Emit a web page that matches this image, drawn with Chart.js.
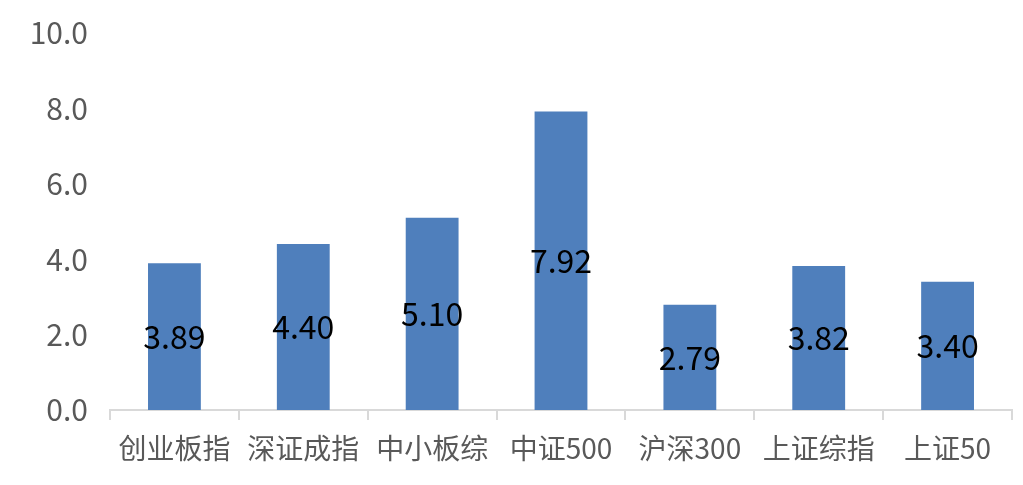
<!DOCTYPE html>
<html>
<head>
<meta charset="utf-8">
<script src="https://cdn.jsdelivr.net/npm/chart.js@4/dist/chart.umd.min.js"></script>
<style>
  html, body { margin: 0; padding: 0; background: #fff; }
  #wrap { width: 1023px; height: 485px; }
</style>
</head>
<body>
<div id="wrap"><canvas id="chart" width="1023" height="485"></canvas></div>
<script>
// 数据
const categories = ["创业板指", "深证成指", "中小板综", "中证500", "沪深300", "上证综指", "上证50"];
const values = [3.89, 4.40, 5.10, 7.92, 2.79, 3.82, 3.40];
const yTicks = [0, 2, 4, 6, 8, 10];

const FONT = "'Noto Sans CJK SC', 'Noto Sans', sans-serif";

// 柱内居中数值标签
const barLabels = {
  id: "barLabels",
  afterDatasetsDraw(chart) {
    const { ctx } = chart;
    const meta = chart.getDatasetMeta(0);
    ctx.save();
    ctx.font = `32px ${FONT}`;
    ctx.fillStyle = "#000000";
    ctx.textAlign = "center";
    ctx.textBaseline = "middle";
    meta.data.forEach((bar, i) => {
      const y = (bar.y + bar.base) / 2;
      ctx.fillText(values[i].toFixed(2), bar.x, y);
    });
    ctx.restore();
  },
};

new Chart(document.getElementById("chart").getContext("2d"), {
  type: "bar",
  data: {
    labels: categories,
    datasets: [
      {
        data: values,
        backgroundColor: "#4f7fbc",
        categoryPercentage: 1,
        barPercentage: 0.41,
      },
    ],
  },
  options: {
    responsive: false,
    animation: false,
    layout: { padding: { top: 33, right: 11, left: 0, bottom: 0 } },
    plugins: {
      legend: { display: false },
      tooltip: { enabled: false },
    },
    scales: {
      x: {
        border: { display: true, color: "#d9d9d9", width: 2 },
        grid: { drawOnChartArea: false, drawTicks: true, tickLength: 10, color: "#d9d9d9", lineWidth: 2 },
        ticks: { color: "#595959", font: { family: FONT, size: 28 }, padding: 12 },
        afterFit(scale) { scale.height = 75; },
      },
      y: {
        min: 0,
        max: 10,
        border: { display: false },
        grid: { display: false, drawTicks: false },
        afterBuildTicks(scale) { scale.ticks = yTicks.map((v) => ({ value: v })); },
        ticks: {
          color: "#595959",
          font: { family: FONT, size: 30, lineHeight: 0.6 },
          padding: 22,
          callback: (v) => Number(v).toFixed(1),
        },
        afterFit(scale) { scale.width = 110; },
      },
    },
  },
  plugins: [barLabels],
});
</script>
</body>
</html>
